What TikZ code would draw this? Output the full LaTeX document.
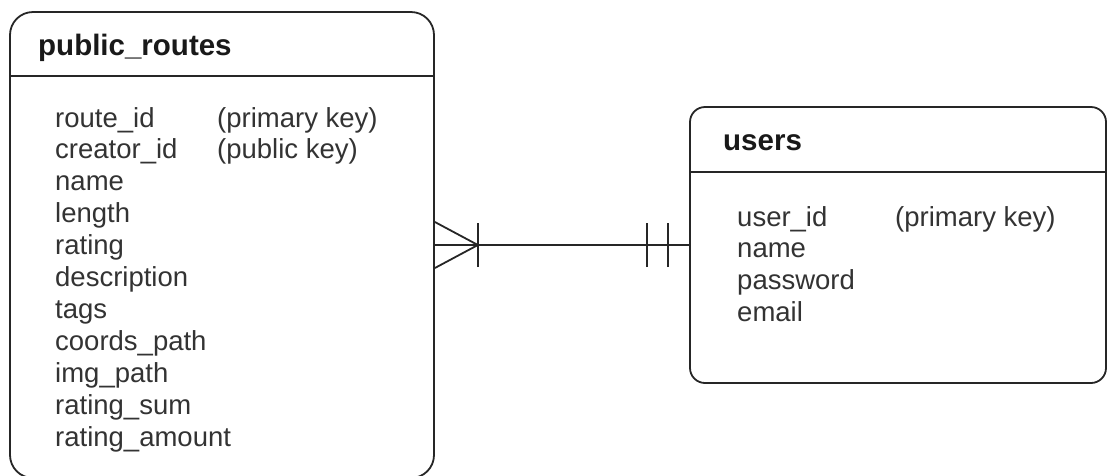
\documentclass[tikz,border=0pt]{standalone}
\usepackage{fontspec}
\setmainfont{Liberation Sans}
\begin{document}
\begin{tikzpicture}[x=1pt,y=-1pt,
  entity/.style={draw=black!85, line width=1.8pt, fill=white, inner sep=0pt},
  rule/.style={draw=black!85, line width=1.8pt},
  link/.style={draw=black!85, line width=1.8pt},
  title/.style={anchor=base west, inner sep=0pt, text=black!90,
    font=\bfseries\fontsize{29.5}{35}\selectfont},
  field/.style={anchor=base west, inner sep=0pt, text=black!80,
    font=\fontsize{27.5}{32}\selectfont}]
\useasboundingbox (0,0) rectangle (1107,475);
\clip (0,0) rectangle (1107,475);

% public_routes table
\node[entity, rounded corners=23pt, minimum width=424pt, minimum height=466pt]
  (routes) at (222,245) {};
\draw[rule] (routes.west |- 0,76) -- (routes.east |- 0,76);
\node[title] (routesTitle) at (38,55) {public\_routes};
\foreach \name/\txt [count=\i from 0] in {
  rid/route\_id, cid/creator\_id, rname/name, rlen/length, rrat/rating,
  rdesc/description, rtags/tags, rcoords/coords\_path, rimg/img\_path,
  rsum/rating\_sum, ramount/rating\_amount}
  \node[field] (\name) at (55,127+31.9*\i) {\txt};
\node[field] (ridKey) at (217,127) {(primary key)};
\node[field] (cidKey) at (217,158.9) {(public key)};

% users table
\node[entity, rounded corners=15pt, minimum width=416pt, minimum height=276pt]
  (users) at (898,245) {};
\draw[rule] (users.west |- 0,172) -- (users.east |- 0,172);
\node[title] (usersTitle) at (723,150) {users};
\foreach \name/\txt [count=\i from 0] in {
  uid/user\_id, uname/name, upass/password, umail/email}
  \node[field] (\name) at (737,226+31.9*\i) {\txt};
\node[field] (uidKey) at (895,226) {(primary key)};

% relationship: many (mandatory) routes to exactly one user
\draw[link] (routes.east) -- (users.west);
\draw[link] ([yshift=-23pt]routes.east) -- ([xshift=43pt]routes.east)
  -- ([yshift=23pt]routes.east);
\draw[link] ([xshift=43pt,yshift=-22pt]routes.east)
  -- ([xshift=43pt,yshift=22pt]routes.east);
\draw[link] ([xshift=-42pt,yshift=-22pt]users.west)
  -- ([xshift=-42pt,yshift=22pt]users.west);
\draw[link] ([xshift=-21pt,yshift=-22pt]users.west)
  -- ([xshift=-21pt,yshift=22pt]users.west);
\end{tikzpicture}
\end{document}
